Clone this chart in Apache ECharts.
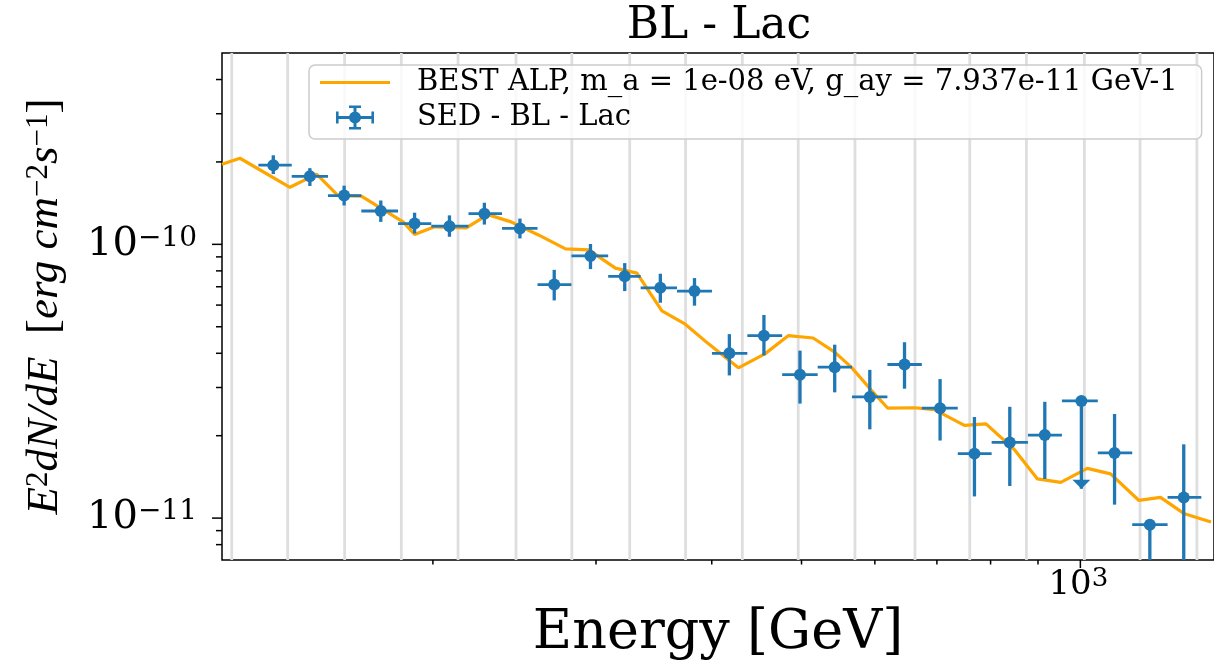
<!DOCTYPE html>
<html><head><meta charset="utf-8">
<script src="https://cdn.jsdelivr.net/npm/echarts@6.0.0/dist/echarts.min.js"></script>
<style>html,body{margin:0;padding:0;background:#fff;}#c{width:1214px;height:666px;}</style>
</head><body><div id="c"></div>
<script>
// ---- data ----
const energy = [134.5, 147.3, 160.4, 175.7, 191.1, 208.4, 227.3, 248.3, 270.4, 295.9, 322.2, 352.0, 383.2, 417.9, 455.4, 498.1, 543.0, 592.5, 645.9, 705.6, 768.5, 839.1, 915.4, 1002.5, 1088.7, 1188.5, 1293];
const energyLow = [129.6, 140.8, 154.1, 167.4, 183.4, 199.2, 218.5, 237.5, 259.4, 282.2, 309.2, 335.2, 366.9, 400.2, 437.0, 476.5, 520.5, 566.8, 619.0, 674.3, 737.3, 802.1, 877.8, 955.2, 1044.3, 1137.6, 1242.1];
const energyHigh = [140.8, 154.1, 167.4, 183.4, 199.2, 218.5, 237.5, 259.4, 282.2, 309.2, 335.2, 366.9, 400.2, 437.0, 476.5, 520.5, 566.8, 619.0, 674.3, 737.3, 802.1, 877.8, 955.2, 1044.3, 1137.6, 1242.1, 1350.7];
const flux = [1.946e-10, 1.772e-10, 1.507e-10, 1.324e-10, 1.191e-10, 1.165e-10, 1.294e-10, 1.143e-10, 7.13e-11, 9.07e-11, 7.64e-11, 6.94e-11, 6.75e-11, 4.00e-11, 4.64e-11, 3.34e-11, 3.56e-11, 2.77e-11, 3.64e-11, 2.52e-11, 1.72e-11, 1.89e-11, 2.01e-11, 2.68e-11, 1.73e-11, 9.46e-12, 1.19e-11];
const fluxHigh = [2.115e-10, 1.898e-10, 1.638e-10, 1.446e-10, 1.305e-10, 1.276e-10, 1.419e-10, 1.242e-10, 8.07e-11, 1.003e-10, 8.54e-11, 7.81e-11, 7.53e-11, 4.70e-11, 5.52e-11, 4.09e-11, 4.30e-11, 3.48e-11, 4.39e-11, 3.22e-11, 2.34e-11, 2.55e-11, 2.66e-11, 2.68e-11, 2.40e-11, 9.8e-12, 1.86e-11];
const fluxLow = [1.806e-10, 1.634e-10, 1.387e-10, 1.208e-10, 1.096e-10, 1.066e-10, 1.181e-10, 1.051e-10, 6.24e-11, 8.12e-11, 6.75e-11, 6.12e-11, 5.97e-11, 3.32e-11, 3.93e-11, 2.62e-11, 2.88e-11, 2.11e-11, 2.97e-11, 1.92e-11, 1.20e-11, 1.31e-11, 1.39e-11, 1.28e-11, 1.12e-11, 5e-12, 5e-12];
const upperLimit = [0,0,0,0,0,0,0,0,0,0,0,0,0,0,0,0,0,0,0,0,0,0,0,1,0,0,0];

const modelEnergy = [118.4, 123.8, 140.2, 149.8, 158.0, 167.4, 185.7, 191.1, 200.8, 217.3, 229.3, 242.9, 260.3, 278.1, 294.7, 314.8, 332.1, 353.4, 374.5, 396.8, 427.4, 456.5, 483.7, 514.6, 543.0, 565.8, 594.8, 619.7, 662.2, 695.9, 749.6, 790.9, 848.5, 898.9, 952.4, 1017.4, 1078, 1156.8, 1220.4, 1293, 1383.6];
const modelFlux = [1.962e-10, 2.063e-10, 1.616e-10, 1.806e-10, 1.507e-10, 1.500e-10, 1.208e-10, 1.087e-10, 1.159e-10, 1.149e-10, 1.284e-10, 1.208e-10, 1.080e-10, 9.62e-11, 9.54e-11, 8.19e-11, 7.85e-11, 5.71e-11, 5.11e-11, 4.33e-11, 3.54e-11, 3.98e-11, 4.64e-11, 4.55e-11, 4.04e-11, 3.56e-11, 2.93e-11, 2.52e-11, 2.53e-11, 2.49e-11, 2.18e-11, 2.21e-11, 1.78e-11, 1.39e-11, 1.35e-11, 1.52e-11, 1.45e-11, 1.16e-11, 1.19e-11, 1.04e-11, 9.67e-12];

const gridLinesX = [121.3, 139.4, 160.6, 184.9, 212.9, 245.9, 282.5, 326.2, 374.8, 431.6, 495.9, 571.0, 662.9, 759.6, 874.5, 1010, 1160, 1336];
const xMajorTicks = [1000];
const xMinorTicks = [200, 300, 400, 500, 600, 700, 800, 900];
const yMajorTicks = [1e-10, 1e-11];
const yMinorTicks = [4e-10, 3e-10, 2e-10, 9e-11, 8e-11, 7e-11, 6e-11, 5e-11, 4e-11, 3e-11, 2e-11, 9e-12, 8e-12];

const X_MIN = 118.4, X_MAX = 1394, Y_MIN = 7.03e-12, Y_MAX = 5.0e-10;
const NAME_MODEL = 'BEST ALP, m_a = 1e-08 eV, g_ay = 7.937e-11 GeV-1';
const NAME_SED = 'SED - BL - Lac';
const TITLE = 'BL - Lac';

// ---- styles ----
const BLUE = '#1f77b4', ORANGE = '#ffa500';
const SERIF = 'DejaVu Serif';

const errData = energy.map((e, i) => [e, flux[i], energyLow[i], energyHigh[i], fluxLow[i], fluxHigh[i], upperLimit[i]]);
const modelData = modelEnergy.map((e, i) => [e, modelFlux[i]]);
const tickData = []
  .concat(xMajorTicks.map(v => [v, Y_MIN, 0]))
  .concat(xMinorTicks.map(v => [v, Y_MIN, 1]))
  .concat(yMajorTicks.map(v => [X_MIN, v, 2]))
  .concat(yMinorTicks.map(v => [X_MIN, v, 3]));

function expLabel(v) {
  const e = Math.round(Math.log10(v));
  return '{b|10}{s|' + (e < 0 ? '\u2212' + (-e) : String(e)) + '}';
}

const chart = echarts.init(document.getElementById('c'), null, {renderer: 'canvas'});
chart.setOption({
  animation: false,
  backgroundColor: '#ffffff',
  graphic: [{
    type: 'text', x: 719, y: 5, z: 10,
    style: {text: TITLE, fontFamily: SERIF, fontSize: 44, fill: '#000', align: 'center', verticalAlign: 'top'}
  }],
  grid: {left: 222, top: 53, right: -3, bottom: 101, show: true, borderColor: '#000', borderWidth: 1.5, backgroundColor: 'transparent'},
  xAxis: {
    type: 'log', logBase: 10, min: X_MIN, max: X_MAX,
    axisLine: {show: false}, axisTick: {show: false}, axisLabel: {show: false}, splitLine: {show: false},
    name: 'Energy [GeV]', nameLocation: 'middle', nameGap: 47,
    nameTextStyle: {fontFamily: SERIF, fontSize: 54, color: '#000'}
  },
  yAxis: {
    type: 'log', logBase: 10, min: Y_MIN, max: Y_MAX,
    axisLine: {show: false}, axisTick: {show: false}, axisLabel: {show: false}, splitLine: {show: false},
    name: '{i|E}{u|2}{i|dN/dE}{r|  [}{i|erg cm}{u|\u22122}{i|s}{u|\u22121}{r|]}',
    nameLocation: 'middle', nameGap: 154,
    nameTextStyle: {
      color: '#000',
      rich: {
        i: {fontFamily: 'Liberation Serif', fontStyle: 'italic', fontSize: 45, lineHeight: 45, verticalAlign: 'bottom', color: '#000'},
        r: {fontFamily: 'Liberation Serif', fontSize: 45, lineHeight: 45, verticalAlign: 'bottom', color: '#000'},
        u: {fontFamily: 'Liberation Serif', fontSize: 31, lineHeight: 31, verticalAlign: 'top', color: '#000'}
      }
    }
  },
  legend: {
    orient: 'vertical', left: 309, top: 65, selectedMode: false,
    data: [
      {name: NAME_MODEL, icon: 'path://M0,0H70V3.2H0Z'},
      {name: NAME_SED, icon: 'path://M0,10.5H38V13.5H0Z M0,6H2.6V18H0Z M35.4,6H38V18H35.4Z M17.5,0H20.5V24H17.5Z M13,0H25V2.6H13Z M13,21.4H25V24H13Z M13,12A6,6,0,1,1,25,12A6,6,0,1,1,13,12Z'}
    ],
    itemWidth: 70, itemHeight: 24, itemGap: 6,
    padding: [3, 24, 7, 11],
    backgroundColor: 'rgba(255,255,255,0.8)', borderColor: '#cccccc', borderWidth: 1.5, borderRadius: 6,
    textStyle: {fontFamily: SERIF, fontSize: 29, lineHeight: 28, color: '#000', padding: [0, 0, 0, 22]}
  },
  series: [
    {
      type: 'custom', name: 'grid', silent: true, clip: true, z: 1,
      data: gridLinesX.map(v => [v, Y_MIN]),
      renderItem: function (params, api) {
        const a = api.coord([api.value(0), Y_MIN]);
        const b = api.coord([api.value(0), Y_MAX]);
        return {type: 'line', shape: {x1: a[0], y1: a[1], x2: b[0], y2: b[1]}, style: {stroke: '#dedede', lineWidth: 2.8}};
      }
    },
    {
      type: 'line', name: NAME_MODEL, data: modelData, z: 3,
      symbol: 'none', showSymbol: false,
      lineStyle: {color: ORANGE, width: 3.2}, itemStyle: {color: ORANGE}
    },
    {
      type: 'custom', name: NAME_SED, clip: true, z: 4,
      itemStyle: {color: BLUE},
      dimensions: ['e', 'f', 'el', 'eh', 'fl', 'fh', 'ul'],
      encode: {x: 0, y: 1},
      data: errData,
      renderItem: function (params, api) {
        const c = api.coord([api.value(0), api.value(1)]);
        const xl = api.coord([api.value(2), api.value(1)])[0];
        const xh = api.coord([api.value(3), api.value(1)])[0];
        const yl = api.coord([api.value(0), api.value(4)])[1];
        const yh = api.coord([api.value(0), api.value(5)])[1];
        const children = [
          {type: 'line', shape: {x1: xl, y1: c[1], x2: xh, y2: c[1]}, style: {stroke: BLUE, lineWidth: 2.8}},
          {type: 'line', shape: {x1: c[0], y1: yh, x2: c[0], y2: yl}, style: {stroke: BLUE, lineWidth: 3.3}},
          {type: 'circle', shape: {cx: c[0], cy: c[1], r: 6}, style: {fill: BLUE}}
        ];
        if (api.value(6)) {
          children.push({type: 'polygon', shape: {points: [[c[0] - 9, yl - 9], [c[0] + 9, yl - 9], [c[0], yl]]}, style: {fill: BLUE}});
        }
        return {type: 'group', children: children};
      }
    },
    {
      type: 'custom', name: 'ticks', silent: true, clip: false, z: 5,
      data: tickData,
      renderItem: function (params, api) {
        const t = api.value(2);
        const p = api.coord([api.value(0), api.value(1)]);
        const children = [];
        if (t === 0 || t === 1) {
          const len = t === 0 ? 8 : 4.5;
          children.push({type: 'line', shape: {x1: p[0], y1: p[1], x2: p[0], y2: p[1] + len}, style: {stroke: '#000', lineWidth: 1.5}});
          if (t === 0) {
            children.push({type: 'text', x: p[0] - 2, y: p[1] + 6, style: {
              text: expLabel(api.value(0)), align: 'center', verticalAlign: 'top', fill: '#000',
              rich: {
                b: {fontFamily: SERIF, fontSize: 34, lineHeight: 36, verticalAlign: 'bottom', fill: '#000'},
                s: {fontFamily: SERIF, fontSize: 26, lineHeight: 26, verticalAlign: 'top', fill: '#000'}
              }
            }});
          }
        } else {
          const len = t === 2 ? 10 : 6;
          children.push({type: 'line', shape: {x1: p[0] - len, y1: p[1], x2: p[0], y2: p[1]}, style: {stroke: '#000', lineWidth: 1.5}});
          if (t === 2) {
            children.push({type: 'text', x: p[0] - 25, y: p[1], style: {
              text: expLabel(api.value(1)), align: 'right', verticalAlign: 'middle', fill: '#000',
              rich: {
                b: {fontFamily: SERIF, fontSize: 40, lineHeight: 40, verticalAlign: 'bottom', fill: '#000'},
                s: {fontFamily: SERIF, fontSize: 28, lineHeight: 28, verticalAlign: 'top', fill: '#000'}
              }
            }});
          }
        }
        return {type: 'group', children: children};
      }
    }
  ]
});
</script></body></html>
